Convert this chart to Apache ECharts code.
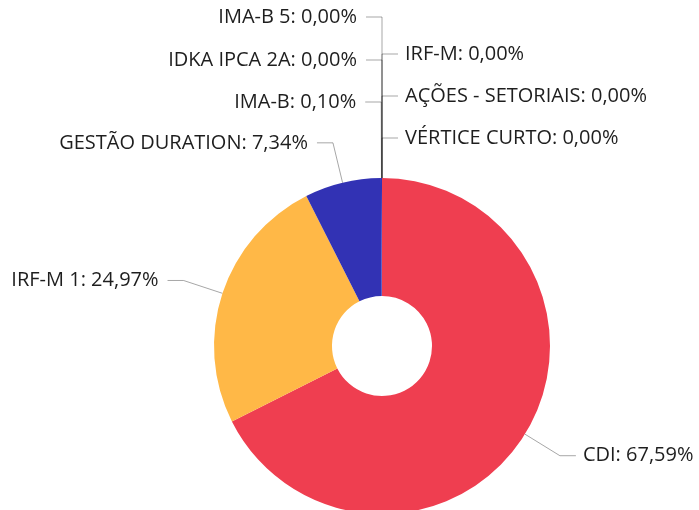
<!DOCTYPE html>
<html>
<head>
<meta charset="utf-8">
<script src="https://cdn.jsdelivr.net/npm/echarts@6/dist/echarts.min.js"></script>
<style>html,body{margin:0;padding:0;background:#fff;}#c{width:699px;height:510px;}</style>
</head>
<body>
<div id="c"></div>
<script>
// Data items in drawing order (clockwise from the top)
var names = ['IRF-M', 'AÇÕES - SETORIAIS', 'VÉRTICE CURTO', 'CDI', 'IRF-M 1', 'GESTÃO DURATION', 'IMA-B', 'IDKA IPCA 2A', 'IMA-B 5'];
var values = [0, 0, 0, 67.59, 24.97, 7.34, 0.10, 0, 0];

// styling (kept apart from the data)
var colorByName = {
  'CDI': '#EF3E50', 'IRF-M 1': '#FFB847', 'GESTÃO DURATION': '#3232B4', 'IMA-B': '#3232B4',
  'IRF-M': '#EF3E50', 'AÇÕES - SETORIAIS': '#EF3E50', 'VÉRTICE CURTO': '#EF3E50',
  'IDKA IPCA 2A': '#3232B4', 'IMA-B 5': '#3232B4'
};
// zero-value items whose labels sit on the right of the top
var rightSide = ['IRF-M', 'AÇÕES - SETORIAIS', 'VÉRTICE CURTO'];
// first label-line segment length per item (stacks the labels above the top)
var lineLength = {
  'IRF-M': 124, 'AÇÕES - SETORIAIS': 82, 'VÉRTICE CURTO': 40,
  'IMA-B': 76, 'IDKA IPCA 2A': 118, 'IMA-B 5': 161
};

function fmt(p) {
  return p.name + ': ' + Number(p.value).toFixed(2).replace('.', ',') + '%';
}

var labelBase = {
  show: true,
  fontFamily: 'Open Sans',
  fontSize: 20,
  color: '#1e1e1e',
  overflow: 'none',
  distanceToLabelLine: 7,
  padding: [6, 2, 0, 0],
  formatter: fmt
};
var lineBase = { show: true, length: 41, length2: 16, lineStyle: { color: 'rgba(0,0,0,0.35)', width: 1 } };

function lineFor(n, show) {
  var o = { show: show };
  if (lineLength[n] !== undefined) o.length = lineLength[n];
  return o;
}

var mainData = names.map(function (n, i) {
  var hide = rightSide.indexOf(n) >= 0;
  return {
    name: n, value: values[i], itemStyle: { color: colorByName[n] },
    label: { show: !hide }, labelLine: lineFor(n, !hide)
  };
});

var total = values.reduce(function (a, b) { return a + b; }, 0);
var sideData = rightSide.map(function (n) {
  return { name: n, value: values[names.indexOf(n)], labelLine: lineFor(n, true) };
});
sideData.push({ name: 'rest', value: total, label: { show: false }, labelLine: { show: false } });

var chart = echarts.init(document.getElementById('c'));
chart.setOption({
  animation: false,
  series: [{
    type: 'pie',
    center: [382, 346],
    radius: [50, 168],
    startAngle: 90,
    clockwise: true,
    avoidLabelOverlap: false,
    data: mainData,
    label: labelBase,
    labelLine: lineBase,
    emphasis: { disabled: true }
  }, {
    type: 'pie',
    center: [382, 346],
    radius: [50, 168],
    startAngle: 89.999,
    clockwise: true,
    silent: true,
    avoidLabelOverlap: false,
    data: sideData,
    itemStyle: { color: 'rgba(0,0,0,0)' },
    label: labelBase,
    labelLine: lineBase,
    emphasis: { disabled: true }
  }]
});
</script>
</body>
</html>
